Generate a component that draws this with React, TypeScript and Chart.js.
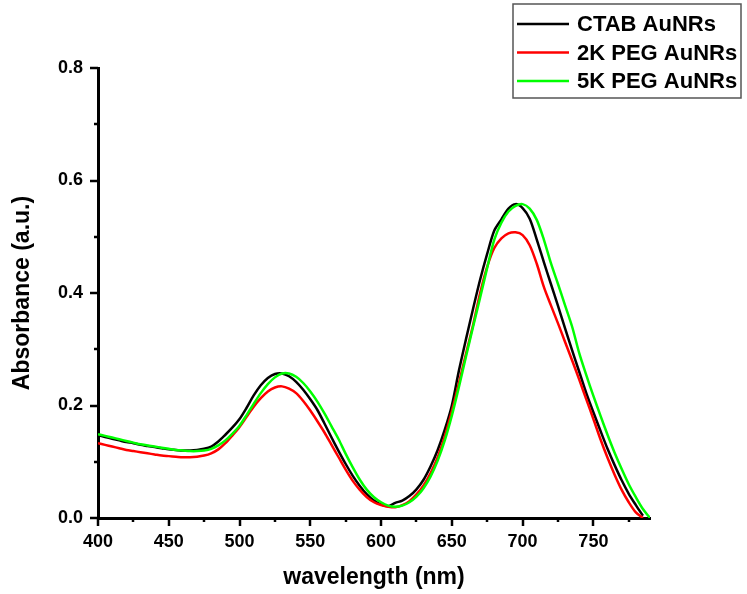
import React, { useEffect, useRef } from "react";
import { Chart, registerables } from "chart.js";

Chart.register(...registerables);

const wavelengths = [
  400, 405, 410, 415, 420, 425, 430, 435, 440, 445, 450, 455, 460, 465, 470, 475, 480, 485, 490, 495,
  500, 505, 510, 515, 520, 525, 530, 535, 540, 545, 550, 555, 560, 565, 570, 575, 580, 585, 590, 595,
  600, 605, 610, 615, 620, 625, 630, 635, 640, 645, 650, 655, 660, 665, 670, 675, 680, 685, 690, 695,
  700, 705, 710, 715, 720, 725, 730, 735, 740, 745, 750, 755, 760, 765, 770, 775, 780, 785, 790,
];

const ctabAuNRs = [
  0.147, 0.144, 0.141, 0.138, 0.135, 0.133, 0.130, 0.128, 0.126, 0.124, 0.122, 0.121, 0.120, 0.120, 0.121, 0.123, 0.127, 0.136, 0.148, 0.161,
  0.176, 0.196, 0.218, 0.236, 0.249, 0.256, 0.257, 0.252, 0.242, 0.228, 0.211, 0.192, 0.168, 0.143, 0.119, 0.096, 0.075, 0.057, 0.042, 0.031,
  0.024, 0.021, 0.027, 0.031, 0.039, 0.051, 0.068, 0.092, 0.121, 0.157, 0.200, 0.262, 0.318, 0.372, 0.424, 0.470, 0.511, 0.531, 0.550, 0.558,
  0.551, 0.532, 0.495, 0.455, 0.416, 0.377, 0.337, 0.298, 0.260, 0.222, 0.188, 0.155, 0.123, 0.094, 0.067, 0.043, 0.023, 0.004, null,
];

const peg2kAuNRs = [
  0.133, 0.130, 0.127, 0.124, 0.121, 0.119, 0.117, 0.115, 0.113, 0.111, 0.110, 0.109, 0.108, 0.108, 0.109, 0.111, 0.115, 0.122, 0.133, 0.147,
  0.162, 0.180, 0.198, 0.213, 0.225, 0.232, 0.234, 0.230, 0.222, 0.208, 0.191, 0.172, 0.152, 0.130, 0.108, 0.086, 0.066, 0.050, 0.037, 0.028,
  0.023, 0.020, 0.019, 0.023, 0.030, 0.042, 0.058, 0.080, 0.108, 0.145, 0.190, 0.240, 0.292, 0.343, 0.400, 0.447, 0.480, 0.497, 0.506, 0.508,
  0.503, 0.485, 0.452, 0.411, 0.378, 0.346, 0.313, 0.280, 0.246, 0.211, 0.176, 0.140, 0.107, 0.077, 0.050, 0.028, 0.010, 0.000, null,
];

const peg5kAuNRs = [
  0.149, 0.146, 0.143, 0.140, 0.137, 0.134, 0.131, 0.129, 0.127, 0.125, 0.123, 0.121, 0.120, 0.119, 0.119, 0.120, 0.123, 0.129, 0.138, 0.150,
  0.164, 0.183, 0.203, 0.222, 0.238, 0.250, 0.257, 0.257, 0.251, 0.240, 0.225, 0.207, 0.186, 0.163, 0.140, 0.114, 0.090, 0.068, 0.050, 0.037,
  0.028, 0.022, 0.020, 0.022, 0.028, 0.038, 0.053, 0.074, 0.102, 0.138, 0.182, 0.233, 0.287, 0.340, 0.392, 0.445, 0.495, 0.525, 0.545, 0.555,
  0.558, 0.550, 0.530, 0.495, 0.453, 0.416, 0.378, 0.340, 0.293, 0.254, 0.217, 0.182, 0.148, 0.116, 0.087, 0.060, 0.037, 0.016, 0.000,
];

const seriesLabels = ["CTAB AuNRs", "2K PEG AuNRs", "5K PEG AuNRs"];
const seriesColors = ["#000000", "#ff0000", "#00ff00"];

const xMajorTicks = [400, 450, 500, 550, 600, 650, 700, 750];
const xMinorTicks = [425, 475, 525, 575, 625, 675, 725, 775];
const yMajorTicks = [0, 0.2, 0.4, 0.6, 0.8];
const yMinorTicks = [0.1, 0.3, 0.5, 0.7];

const FONT = "'Liberation Sans', Arial, Helvetica, sans-serif";

const toPoints = (vals: (number | null)[]) =>
  wavelengths.map((w, i) => ({ x: w, y: vals[i] }));

const axisTicksPlugin = {
  id: "axisTicks",
  afterDraw(chart: any) {
    const { ctx, scales } = chart;
    const x = scales.x;
    const y = scales.y;
    ctx.save();
    ctx.strokeStyle = "#000";
    ctx.lineWidth = 2.5;
    ctx.lineCap = "butt";
    const yb = y.bottom;
    const xl = x.left;
    const seg = (x1: number, y1: number, x2: number, y2: number) => {
      ctx.beginPath();
      ctx.moveTo(x1, y1);
      ctx.lineTo(x2, y2);
      ctx.stroke();
    };
    xMajorTicks.forEach((v) => {
      const p = Math.round(x.getPixelForValue(v));
      seg(p, yb, p, yb + 8);
    });
    xMinorTicks.forEach((v) => {
      const p = Math.round(x.getPixelForValue(v));
      seg(p, yb, p, yb + 4);
    });
    yMajorTicks.forEach((v) => {
      const p = Math.round(y.getPixelForValue(v));
      seg(xl, p, xl - 8, p);
    });
    yMinorTicks.forEach((v) => {
      const p = Math.round(y.getPixelForValue(v));
      seg(xl, p, xl - 4, p);
    });
    ctx.restore();
  },
};

const boxLegendPlugin = {
  id: "boxLegend",
  afterDraw(chart: any) {
    const { ctx } = chart;
    const datasets = chart.data.datasets;
    const boxLeft = 513;
    const boxTop = 4;
    const boxW = 228;
    const boxH = 94;
    ctx.save();
    ctx.fillStyle = "#ffffff";
    ctx.fillRect(boxLeft, boxTop, boxW, boxH);
    ctx.strokeStyle = "#555555";
    ctx.lineWidth = 1.5;
    ctx.strokeRect(boxLeft, boxTop, boxW, boxH);
    ctx.font = `bold 22px ${FONT}`;
    ctx.textBaseline = "middle";
    ctx.textAlign = "left";
    const rowH = 28.5;
    [0, 1, 2].forEach((idx, row) => {
      const ds = datasets.find((d: any) => d.label === seriesLabels[idx]);
      const cy = boxTop + 20 + row * rowH;
      ctx.strokeStyle = ds.borderColor;
      ctx.lineWidth = 2.5;
      ctx.beginPath();
      ctx.moveTo(boxLeft + 4, cy);
      ctx.lineTo(boxLeft + 56, cy);
      ctx.stroke();
      ctx.fillStyle = "#000";
      ctx.fillText(ds.label, boxLeft + 64, cy + 1);
    });
    ctx.restore();
  },
};

export default function App() {
  const canvasRef = useRef<HTMLCanvasElement | null>(null);

  useEffect(() => {
    const canvas = canvasRef.current;
    if (!canvas) return;
    const seriesValues = [ctabAuNRs, peg2kAuNRs, peg5kAuNRs];
    const drawOrder = [2, 1, 0];
    const chart = new Chart(canvas, {
      type: "line",
      data: {
        datasets: seriesLabels.map((label, i) => ({
          label,
          data: toPoints(seriesValues[i]),
          borderColor: seriesColors[i],
          backgroundColor: seriesColors[i],
          borderWidth: 2.5,
          pointRadius: 0,
          tension: 0.3,
          fill: false,
          spanGaps: false,
          order: drawOrder[i],
        })),
      },
      options: {
        responsive: false,
        animation: false,
        layout: { padding: { top: 68, right: 97, left: 0, bottom: 0 } },
        plugins: {
          legend: { display: false },
          tooltip: { enabled: false },
          title: { display: false },
        },
        scales: {
          x: {
            type: "linear",
            min: 400,
            max: 790,
            grid: { display: false, drawTicks: false },
            border: { display: true, color: "#000", width: 3 },
            ticks: {
              stepSize: 50,
              includeBounds: false,
              padding: 13,
              color: "#000",
              font: { family: FONT, size: 18, weight: "bold" },
              callback: (v: any) => String(v),
              maxRotation: 0,
            },
            title: {
              display: true,
              text: "wavelength (nm)",
              color: "#000",
              font: { family: FONT, size: 23, weight: "bold" },
              padding: { top: 0, bottom: 3 },
            },
            afterFit: (scale: any) => {
              scale.height = 76;
            },
          },
          y: {
            type: "linear",
            min: 0,
            max: 0.8,
            grid: { display: false, drawTicks: false },
            border: { display: true, color: "#000", width: 3 },
            ticks: {
              stepSize: 0.2,
              padding: 15,
              color: "#000",
              font: { family: FONT, size: 18, weight: "bold" },
              callback: (v: any) => Number(v).toFixed(1),
            },
            title: {
              display: true,
              text: "Absorbance (a.u.)",
              color: "#000",
              font: { family: FONT, size: 23, weight: "bold" },
              padding: { top: 9, bottom: 0 },
            },
            afterFit: (scale: any) => {
              scale.width = 98;
            },
          },
        },
      },
      plugins: [axisTicksPlugin, boxLegendPlugin],
    });
    return () => chart.destroy();
  }, []);

  return (
    <div style={{ position: "absolute", left: 0, top: 0, width: 747, height: 594, background: "#fff" }}>
      <canvas ref={canvasRef} width={747} height={594} />
    </div>
  );
}
